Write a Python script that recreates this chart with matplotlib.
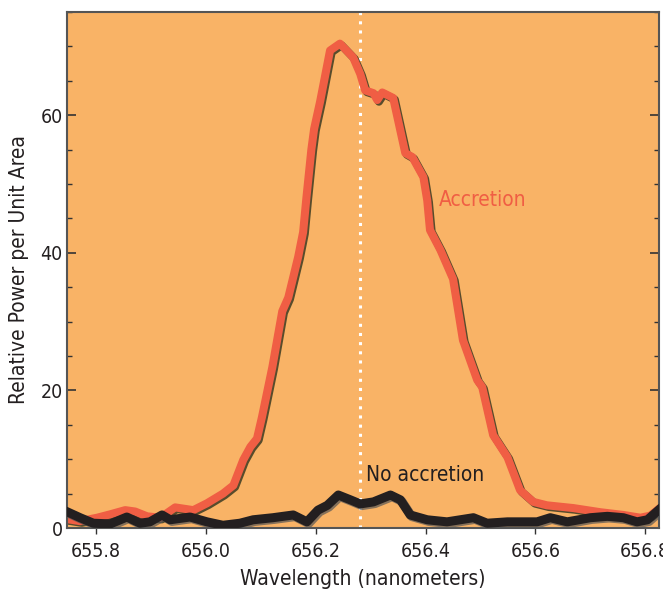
import matplotlib
matplotlib.use("Agg")
import matplotlib.pyplot as plt
import matplotlib.patheffects as pe
from matplotlib.ticker import MultipleLocator

# Accretion spectrum (wavelength nm, relative power)
acc_wl = [655.747, 655.771, 655.802, 655.826, 655.853, 655.871, 655.893, 655.917,
          655.944, 655.977, 656.002, 656.031, 656.050, 656.068, 656.081, 656.093,
          656.102, 656.121, 656.139, 656.150, 656.168, 656.177, 656.183, 656.192,
          656.197, 656.208, 656.226, 656.244, 656.268, 656.281, 656.290, 656.305,
          656.312, 656.321, 656.341, 656.363, 656.376, 656.396, 656.403, 656.408,
          656.427, 656.450, 656.468, 656.494, 656.503, 656.523, 656.549, 656.572,
          656.596, 656.621, 656.669, 656.718, 656.760, 656.791, 656.809, 656.825]
acc_val = [1.3, 1.0, 1.5, 2.0, 2.6, 2.4, 1.7, 1.5,
           3.0, 2.6, 3.6, 5.0, 6.2, 9.9, 11.8, 13.0,
           16.1, 23.4, 31.5, 33.5, 39.4, 43.0, 48.0, 55.0,
           58.0, 62.0, 69.4, 70.4, 68.4, 66.0, 63.6, 63.2,
           62.2, 63.3, 62.5, 54.5, 53.9, 51.0, 47.6, 43.3,
           40.4, 36.2, 27.3, 21.5, 20.5, 13.5, 10.3, 5.5,
           3.8, 3.3, 2.9, 2.3, 1.9, 1.5, 1.8, 2.8]

# No-accretion spectrum
noacc_wl = [655.749, 655.771, 655.795, 655.826, 655.856, 655.880, 655.898, 655.920,
            655.935, 655.971, 656.002, 656.031, 656.062, 656.086, 656.122, 656.159,
            656.184, 656.204, 656.221, 656.241, 656.263, 656.281, 656.305, 656.336,
            656.354, 656.372, 656.403, 656.439, 656.487, 656.512, 656.549, 656.603,
            656.627, 656.658, 656.700, 656.731, 656.760, 656.785, 656.804, 656.824]
noacc_val = [2.3, 1.5, 0.7, 0.6, 1.6, 0.7, 0.9, 1.9,
             1.2, 1.6, 0.9, 0.4, 0.7, 1.2, 1.5, 1.9,
             0.9, 2.6, 3.3, 4.8, 4.1, 3.5, 3.8, 4.8,
             4.1, 1.9, 1.2, 0.9, 1.5, 0.7, 0.9, 0.9,
             1.5, 0.9, 1.5, 1.7, 1.5, 0.9, 1.2, 2.6]

h_alpha = 656.28
x_ticks = [655.8, 656.0, 656.2, 656.4, 656.6, 656.8]
y_ticks = [0, 20, 40, 60]

BG = "#F9B366"
RED = "#F05E44"
DARK = "#231F20"
FONT = dict(family="DejaVu Sans", stretch="condensed")

fig = plt.figure(figsize=(6.63, 5.98), dpi=100)
ax = fig.add_axes([0.101, 0.117, 0.893, 0.863])
ax.set_facecolor(BG)

ax.axvline(h_alpha, color="white", lw=2.2, linestyle=(0, (1, 2)), zorder=1,
           solid_capstyle="butt", dash_capstyle="butt")

shadow = [pe.SimpleLineShadow(offset=(1.2, -1.2), shadow_color="#3c3a22", alpha=0.85),
          pe.Normal()]
ax.plot(acc_wl, acc_val, color=RED, lw=5.8, solid_joinstyle="round",
        path_effects=shadow, zorder=2)
ax.plot(noacc_wl, noacc_val, color=DARK, lw=6.5, solid_joinstyle="round",
        path_effects=[pe.SimpleLineShadow(offset=(1.2, -1.2), shadow_color="#555555", alpha=0.7),
                      pe.Normal()], zorder=3)

ax.text(656.425, 47.6, "Accretion", color=RED, fontsize=15, va="center", ha="left", **FONT)
ax.text(656.292, 7.7, "No accretion", color=DARK, fontsize=15, va="center", ha="left", **FONT)

ax.set_xlim(655.747, 656.825)
ax.set_ylim(0, 75)
ax.set_xticks(x_ticks)
ax.set_xticklabels([f"{v:.1f}" for v in x_ticks])
ax.set_yticks(y_ticks)
ax.yaxis.set_minor_locator(MultipleLocator(5))

ax.tick_params(axis="y", which="major", direction="in", length=6.5, width=1.2,
               left=True, right=True, labelsize=14, colors="#333333", labelcolor=DARK, pad=3)
ax.tick_params(axis="y", which="minor", direction="in", length=3.5, width=1.0,
               left=True, right=True, colors="#333333")
ax.tick_params(axis="x", which="major", direction="out", length=4, width=1.0,
               labelsize=14, colors="#333333", labelcolor=DARK, pad=6)
for lab in ax.get_xticklabels() + ax.get_yticklabels():
    lab.set_fontstretch("condensed")

for s in ax.spines.values():
    s.set_color("#555555")
    s.set_linewidth(1.5)

ax.set_xlabel("Wavelength (nanometers)", fontsize=15, color=DARK, labelpad=6, **FONT)
ax.set_ylabel("Relative Power per Unit Area", fontsize=15, color=DARK, labelpad=8, **FONT)

fig.savefig("out.png", dpi=100)
